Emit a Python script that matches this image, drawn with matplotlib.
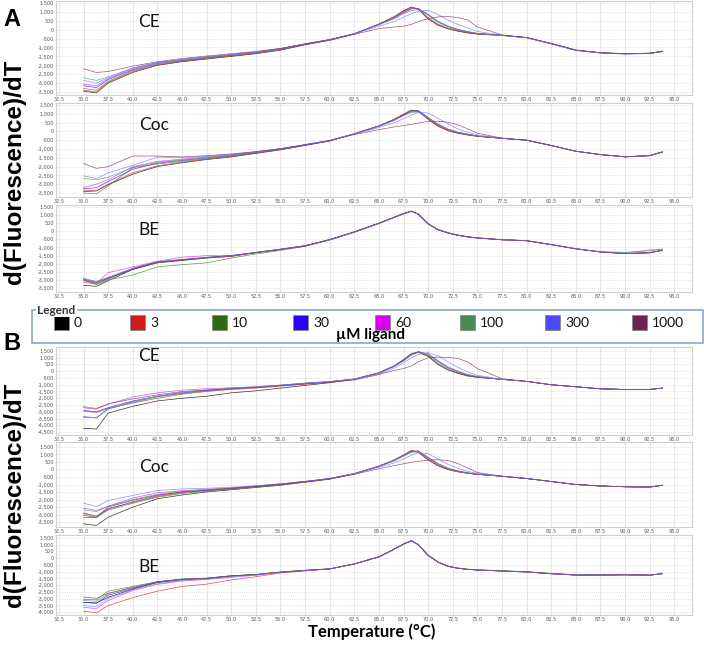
import matplotlib
matplotlib.use("Agg")
import matplotlib.pyplot as plt
from matplotlib.patches import Rectangle
from matplotlib.ticker import FuncFormatter, FixedLocator

# ---------------- data ----------------
TEMP = [35.0, 36.3, 37.5, 40.0, 42.5, 45.0, 47.5, 50.0, 52.5, 55.0, 57.5, 60.0,
        62.5, 65.0, 66.5, 67.5, 68.3, 69.0, 70.0, 71.0, 72.0, 73.0, 74.0, 75.0,
        77.5, 80.0, 82.5, 85.0, 87.5, 90.0, 92.5, 93.8]

CONC = ["0", "3", "10", "30", "60", "100", "300", "1000"]
CONC_COLORS = ["#000000", "#d01c1c", "#2d6a0f", "#2b00f5", "#d800f0", "#4a8a55", "#4a4aff", "#6e2350"]
LINE_COLORS = ["#111111", "#d83030", "#3f8a2a", "#3a22f0", "#e030f0", "#5a9a6a", "#7080ff", "#8a3a68"]

X_TICKS = [32.5 + 2.5 * i for i in range(26)]

A_CE = [
    [-3450, -3550, -3000, -2400, -2000, -1800, -1650, -1500, -1350, -1150, -850, -600, -250, 300, 700, 1050, 1270, 1150, 600, 250, 50, -80, -180, -250, -330, -450, -780, -1150, -1300, -1350, -1320, -1220],
    [-3400, -3500, -2950, -2350, -1980, -1780, -1620, -1480, -1330, -1130, -830, -580, -240, 320, 720, 1080, 1280, 1160, 620, 270, 60, -70, -170, -240, -320, -440, -770, -1150, -1310, -1360, -1330, -1230],
    [-3300, -3400, -2900, -2300, -1950, -1750, -1600, -1450, -1300, -1100, -820, -570, -230, 320, 700, 1020, 1220, 1150, 680, 320, 100, -40, -150, -230, -320, -440, -780, -1140, -1290, -1350, -1320, -1220],
    [-3150, -3250, -2800, -2250, -1900, -1720, -1570, -1430, -1280, -1080, -800, -560, -220, 300, 640, 950, 1170, 1200, 850, 450, 180, 0, -120, -210, -310, -440, -790, -1160, -1300, -1360, -1340, -1230],
    [-3050, -3150, -2750, -2200, -1850, -1680, -1530, -1400, -1250, -1060, -790, -550, -220, 290, 660, 980, 1180, 1170, 800, 420, 170, 0, -120, -210, -320, -450, -780, -1150, -1300, -1350, -1320, -1210],
    [-2700, -2850, -2650, -2150, -1850, -1680, -1530, -1400, -1260, -1070, -800, -560, -230, 270, 600, 900, 1080, 1120, 850, 480, 220, 30, -100, -200, -320, -450, -790, -1160, -1300, -1350, -1330, -1220],
    [-2850, -3000, -2700, -2150, -1850, -1680, -1530, -1400, -1260, -1060, -800, -560, -240, 200, 450, 700, 900, 1030, 1090, 850, 550, 300, 100, -100, -310, -450, -800, -1170, -1310, -1370, -1340, -1230],
    [-2200, -2400, -2350, -2050, -1800, -1620, -1480, -1350, -1220, -1050, -800, -560, -260, 60, 150, 200, 300, 450, 620, 720, 740, 680, 550, 150, -290, -440, -770, -1140, -1290, -1340, -1330, -1200],
]

A_COC = [
    [-3420, -3380, -3030, -2430, -2000, -1780, -1600, -1450, -1250, -1050, -800, -550, -150, 300, 650, 950, 1200, 1150, 700, 300, 50, -100, -200, -280, -400, -500, -800, -1130, -1320, -1450, -1380, -1180],
    [-3330, -3370, -3000, -2350, -1950, -1750, -1570, -1420, -1230, -1030, -780, -530, -130, 320, 680, 980, 1220, 1130, 680, 290, 40, -100, -200, -280, -400, -500, -800, -1130, -1320, -1440, -1380, -1170],
    [-3500, -3550, -3100, -2060, -1850, -1700, -1550, -1400, -1220, -1020, -770, -520, -130, 320, 680, 980, 1200, 1150, 720, 320, 70, -80, -180, -270, -390, -500, -800, -1120, -1310, -1440, -1370, -1160],
    [-3250, -3200, -2850, -2150, -1800, -1650, -1500, -1370, -1200, -1000, -760, -520, -140, 300, 640, 920, 1130, 1180, 800, 400, 120, -50, -160, -260, -390, -500, -800, -1120, -1310, -1440, -1370, -1160],
    [-3190, -3000, -2750, -2000, -1700, -1580, -1450, -1330, -1170, -980, -750, -510, -130, 310, 660, 950, 1150, 1130, 750, 360, 100, -60, -170, -260, -390, -500, -800, -1130, -1320, -1450, -1380, -1170],
    [-2680, -2750, -2600, -2050, -1750, -1620, -1480, -1350, -1200, -1000, -760, -520, -140, 280, 600, 880, 1080, 1100, 800, 430, 150, -30, -150, -250, -390, -500, -800, -1130, -1310, -1440, -1370, -1160],
    [-2530, -2680, -2350, -1930, -1460, -1500, -1420, -1300, -1150, -980, -750, -510, -150, 220, 480, 720, 920, 1080, 1050, 750, 420, 150, -50, -200, -380, -500, -800, -1130, -1320, -1450, -1380, -1170],
    [-1820, -2100, -2000, -1400, -1400, -1450, -1380, -1280, -1150, -980, -760, -520, -180, 100, 250, 330, 400, 480, 560, 580, 520, 380, 150, -100, -380, -500, -800, -1130, -1320, -1440, -1380, -1170],
]

A_BE = [
    [-3330, -3400, -3050, -2350, -1950, -1800, -1650, -1550, -1320, -1120, -900, -520, -50, 500, 850, 1100, 1250, 1050, 450, 100, -100, -250, -350, -420, -520, -580, -820, -1080, -1270, -1370, -1320, -1170],
    [-3150, -3250, -2950, -2300, -1900, -1780, -1640, -1530, -1330, -1140, -920, -530, -60, 480, 840, 1080, 1230, 1060, 470, 110, -90, -240, -340, -410, -520, -580, -820, -1080, -1270, -1370, -1320, -1170],
    [-3000, -3300, -3000, -2700, -2200, -2060, -1950, -1650, -1400, -1180, -930, -540, -60, 470, 830, 1060, 1220, 1060, 480, 130, -70, -220, -330, -400, -510, -570, -810, -1070, -1260, -1300, -1200, -1100],
    [-2950, -3150, -2900, -2350, -1900, -1750, -1620, -1500, -1310, -1110, -900, -510, -40, 500, 860, 1100, 1250, 1060, 460, 100, -100, -240, -340, -410, -520, -580, -820, -1080, -1280, -1380, -1330, -1170],
    [-3050, -3200, -2550, -2200, -1850, -1600, -1500, -1520, -1300, -1100, -880, -510, -40, 490, 850, 1090, 1240, 1060, 470, 110, -90, -230, -330, -400, -520, -580, -820, -1080, -1270, -1370, -1320, -1170],
    [-2900, -3100, -2850, -2300, -1880, -1740, -1610, -1500, -1310, -1110, -900, -520, -50, 490, 850, 1090, 1240, 1050, 460, 100, -100, -240, -340, -410, -520, -580, -820, -1080, -1280, -1380, -1320, -1160],
    [-2950, -3100, -2850, -2280, -1870, -1740, -1600, -1500, -1300, -1100, -890, -510, -40, 500, 860, 1090, 1230, 1050, 460, 110, -100, -240, -350, -420, -530, -590, -830, -1080, -1270, -1330, -1150, -1100],
    [-3000, -3200, -2900, -2320, -1900, -1760, -1620, -1500, -1310, -1110, -890, -510, -30, 510, 860, 1100, 1240, 1040, 440, 90, -110, -250, -350, -420, -530, -590, -830, -1090, -1280, -1380, -1330, -1180],
]

B_CE = [
    [-4230, -4280, -3100, -2600, -2200, -2000, -1850, -1600, -1450, -1250, -1050, -850, -600, -150, 350, 800, 1250, 1400, 1100, 500, 100, -150, -350, -450, -600, -750, -1000, -1150, -1300, -1350, -1350, -1250],
    [-2950, -3050, -2750, -2350, -2000, -1700, -1500, -1350, -1250, -1100, -950, -800, -600, -120, 380, 850, 1300, 1420, 1120, 520, 120, -140, -340, -450, -600, -750, -1000, -1150, -1300, -1350, -1350, -1250],
    [-3400, -3450, -2800, -2300, -1900, -1650, -1450, -1300, -1200, -1050, -900, -780, -580, -100, 400, 880, 1320, 1430, 1150, 560, 150, -120, -330, -440, -600, -750, -1000, -1150, -1300, -1350, -1340, -1240],
    [-2900, -3000, -2700, -2200, -1850, -1600, -1420, -1280, -1180, -1050, -900, -780, -580, -120, 350, 800, 1250, 1450, 1250, 700, 250, -50, -280, -420, -600, -750, -1000, -1150, -1300, -1350, -1350, -1250],
    [-2620, -2750, -2450, -1900, -1600, -1400, -1300, -1220, -1150, -1030, -880, -760, -570, -120, 350, 800, 1250, 1450, 1300, 800, 320, 0, -250, -400, -600, -750, -1000, -1150, -1300, -1350, -1340, -1250],
    [-3400, -3450, -2750, -2250, -1850, -1550, -1380, -1250, -1150, -1020, -880, -760, -570, -130, 330, 770, 1200, 1400, 1250, 750, 330, 20, -230, -380, -600, -750, -1000, -1150, -1300, -1350, -1340, -1240],
    [-3350, -3450, -2800, -2250, -1850, -1600, -1450, -1300, -1180, -1040, -890, -770, -590, -200, 200, 620, 1000, 1250, 1380, 1150, 700, 300, -50, -300, -600, -750, -1000, -1150, -1300, -1350, -1350, -1250],
    [-2700, -2800, -2400, -2050, -1750, -1500, -1400, -1300, -1200, -1080, -950, -820, -650, -250, 50, 200, 400, 700, 1000, 1050, 1020, 950, 700, 200, -550, -750, -1000, -1150, -1300, -1350, -1350, -1250],
]

B_COC = [
    [-3620, -3730, -3180, -2510, -1950, -1700, -1500, -1350, -1200, -1050, -850, -650, -300, 200, 600, 950, 1250, 1150, 650, 250, 0, -150, -250, -330, -450, -600, -800, -1000, -1100, -1150, -1170, -1050],
    [-2950, -3180, -2600, -2200, -1800, -1550, -1400, -1300, -1150, -1000, -820, -620, -280, 220, 620, 970, 1270, 1150, 640, 250, 0, -150, -250, -330, -450, -600, -800, -1000, -1100, -1150, -1180, -1050],
    [-3050, -3200, -2700, -2250, -1850, -1600, -1450, -1300, -1150, -1000, -820, -620, -280, 220, 620, 960, 1250, 1180, 680, 280, 20, -130, -240, -320, -450, -600, -800, -1000, -1100, -1150, -1170, -1050],
    [-3180, -3200, -2500, -2050, -1700, -1500, -1380, -1250, -1120, -980, -800, -600, -270, 230, 600, 920, 1200, 1250, 800, 380, 80, -100, -220, -310, -450, -600, -800, -1000, -1100, -1150, -1170, -1050],
    [-2580, -2730, -2450, -1900, -1550, -1420, -1320, -1220, -1100, -960, -790, -600, -270, 220, 600, 930, 1200, 1180, 750, 330, 50, -120, -230, -320, -450, -600, -800, -1000, -1100, -1150, -1170, -1050],
    [-2690, -2800, -2450, -2000, -1650, -1450, -1350, -1230, -1100, -970, -800, -600, -280, 200, 560, 880, 1130, 1200, 820, 400, 100, -80, -210, -300, -450, -600, -800, -1000, -1100, -1150, -1170, -1050],
    [-2240, -2470, -2070, -1730, -1400, -1300, -1250, -1180, -1080, -950, -790, -600, -290, 150, 430, 700, 950, 1120, 1050, 700, 350, 80, -120, -260, -450, -600, -800, -1000, -1100, -1150, -1170, -1050],
    [-2900, -3100, -2650, -2150, -1750, -1500, -1380, -1260, -1120, -990, -810, -620, -320, 50, 250, 380, 480, 550, 620, 650, 600, 400, 100, -200, -450, -600, -800, -1000, -1100, -1150, -1170, -1050],
]

B_BE = [
    [-3290, -3330, -2900, -2300, -1800, -1600, -1520, -1330, -1230, -1050, -920, -800, -430, 100, 650, 1050, 1300, 1000, 200, -300, -600, -750, -830, -880, -950, -1020, -1150, -1250, -1250, -1230, -1260, -1150],
    [-3930, -4070, -3520, -2930, -2450, -2100, -1930, -1620, -1380, -1100, -950, -810, -440, 80, 630, 1030, 1290, 1010, 220, -280, -590, -740, -830, -880, -950, -1020, -1160, -1250, -1250, -1240, -1270, -1140],
    [-3050, -3100, -2450, -2100, -1740, -1550, -1480, -1300, -1210, -1020, -900, -790, -430, 90, 640, 1040, 1280, 1020, 230, -270, -580, -720, -810, -860, -930, -1000, -1130, -1220, -1230, -1220, -1250, -1140],
    [-3290, -3350, -2750, -2250, -1800, -1580, -1500, -1320, -1220, -1040, -910, -800, -430, 100, 660, 1060, 1310, 1010, 210, -290, -600, -750, -830, -880, -960, -1030, -1160, -1260, -1260, -1240, -1270, -1150],
    [-3640, -3760, -3150, -2400, -1950, -1700, -1580, -1420, -1270, -1060, -920, -800, -430, 110, 660, 1060, 1300, 1000, 200, -300, -600, -750, -830, -880, -950, -1030, -1160, -1260, -1260, -1240, -1260, -1150],
    [-3150, -3200, -2650, -2150, -1760, -1560, -1490, -1310, -1220, -1030, -900, -790, -420, 110, 650, 1050, 1300, 1020, 220, -280, -590, -740, -820, -870, -940, -1010, -1140, -1240, -1250, -1230, -1260, -1150],
    [-3520, -3600, -3000, -2350, -1900, -1650, -1550, -1380, -1250, -1050, -910, -800, -430, 100, 650, 1050, 1290, 1010, 210, -290, -600, -750, -830, -880, -960, -1030, -1160, -1260, -1260, -1250, -1270, -1160],
    [-2880, -2980, -2600, -2200, -1760, -1560, -1500, -1310, -1210, -1030, -900, -790, -420, 100, 650, 1050, 1290, 1000, 200, -300, -600, -750, -830, -870, -950, -1020, -1150, -1250, -1250, -1230, -1260, -1150],
]

A_YTICKS = [1500, 1000, 500, 0, -500, -1000, -1500, -2000, -2500, -3000, -3500]
B_CE_YTICKS = [1500, 1000, 500, 0, -500, -1000, -1500, -2000, -2500, -3000, -3500, -4000, -4500]
B_COC_YTICKS = [1500, 1000, 500, 0, -500, -1000, -1500, -2000, -2500, -3000, -3500]
B_BE_YTICKS = [1500, 1000, 500, 0, -500, -1000, -1500, -2000, -2500, -3000, -3500, -4000]

# ---------------- layout ----------------
W, H = 704, 645
fig = plt.figure(figsize=(W / 100, H / 100), dpi=100)
fig.patch.set_facecolor("white")

def px_axes(l, t, r, b):
    return fig.add_axes([l / W, 1 - b / H, (r - l) / W, (b - t) / H])

def fmt_y(v, pos):
    return "{:,.0f}".format(v)

# panel specs: (data, yticks, top px, bottom px, ylim, label, label pos)
panels = [
    (A_CE, A_YTICKS, 1, 95, (-3669, 1612), "CE", (149, 22)),
    (A_COC, A_YTICKS, 103, 197, (-3727, 1614), "Coc", (154, 125)),
    (A_BE, A_YTICKS, 205, 292, (-3747, 1623), "BE", (149, 230)),
    (B_CE, B_CE_YTICKS, 347, 435, (-4722, 1796), "CE", (149, 356)),
    (B_COC, B_COC_YTICKS, 442, 527, (-3833, 1833), "Coc", (154, 467)),
    (B_BE, B_BE_YTICKS, 535, 615, (-4223, 1723), "BE", (149, 567)),
]

LEFT, RIGHT = 56, 692

axes = []
for data, yt, top, bot, ylim, lab, lpos in panels:
    ax = px_axes(LEFT, top, RIGHT, bot)
    for i, series in enumerate(data):
        ax.plot(TEMP, series, color=LINE_COLORS[i], lw=0.5, alpha=0.85, zorder=3)
    ax.set_xlim(32.2, 96.8)
    ax.set_ylim(*ylim)
    ax.xaxis.set_major_locator(FixedLocator(X_TICKS))
    ax.yaxis.set_major_locator(FixedLocator(yt))
    ax.set_xticklabels(["{:.1f}".format(v) for v in X_TICKS])
    ax.yaxis.set_major_formatter(FuncFormatter(fmt_y))
    ax.tick_params(axis="both", length=0, labelsize=3.6, labelcolor="#555555", pad=1.5)
    ax.grid(axis="x", color="#e6e6e6", lw=0.8, ls="-", zorder=0)
    ax.grid(axis="y", color="#d8d8d8", lw=0.5, ls=(0, (1.5, 1.5)), zorder=0)
    for sp in ax.spines.values():
        sp.set_color("#d0d0d0")
        sp.set_linewidth(0.8)
    axes.append((ax, lab, lpos))

# overlay for annotations in pixel space
ov = fig.add_axes([0, 0, 1, 1], zorder=10)
ov.set_xlim(0, W)
ov.set_ylim(H, 0)
ov.axis("off")
ov.patch.set_visible(False)

for ax, lab, (lx, ly) in axes:
    ov.text(lx, ly, lab, fontsize=12.5, ha="center", va="center", family="Lato", color="#111111")

ov.text(12, 19, "A", fontsize=17, fontweight="bold", ha="center", va="center", family="Liberation Sans")
ov.text(12, 343, "B", fontsize=17, fontweight="bold", ha="center", va="center", family="Liberation Sans")
ov.text(15, 172, "d(Fluorescence)/dT", rotation=90, fontsize=17.5, fontweight="bold",
        ha="center", va="center", family="Liberation Sans")
ov.text(15, 495, "d(Fluorescence)/dT", rotation=90, fontsize=17.5, fontweight="bold",
        ha="center", va="center", family="Liberation Sans")
ov.text(372, 632, "Temperature (\u00b0C)", fontsize=12, fontweight="bold",
        ha="center", va="center", family="Lato")

# legend box
ov.add_patch(Rectangle((32, 310), 671, 33, fill=False, edgecolor="#8fa6c6", lw=1.2))
ov.text(37, 310, "Legend", fontsize=8.5, fontweight="bold", color="#333333", ha="left", va="center",
        family="Lato", bbox=dict(facecolor="white", edgecolor="none", pad=1.0))
sq_x = [54, 130, 212, 293, 375, 460, 545, 632]
for x0, c, lab in zip(sq_x, CONC_COLORS, CONC):
    ov.add_patch(Rectangle((x0, 315), 15, 15, facecolor=c, edgecolor="#888888", lw=0.6))
    ov.text(x0 + 20, 323, lab, fontsize=10, ha="left", va="center", family="Lato", color="#111111")
ov.text(370, 335, "\u00b5M ligand", fontsize=11, fontweight="bold", ha="center", va="center", family="Lato")

fig.savefig("out.png", dpi=100)
